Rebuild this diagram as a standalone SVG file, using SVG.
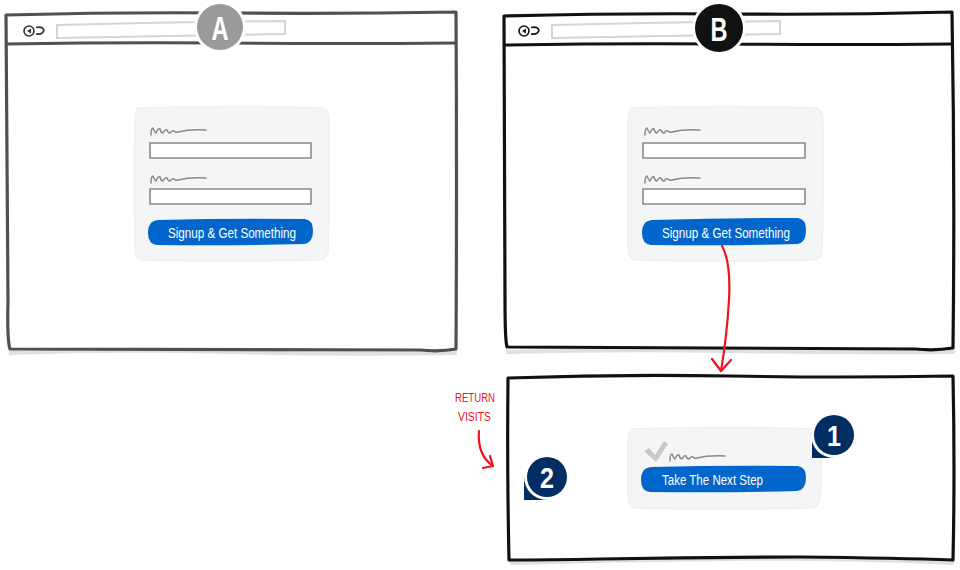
<svg xmlns="http://www.w3.org/2000/svg" width="960" height="570" viewBox="0 0 960 570">
<defs>
<style>
.winA{fill:#fff;stroke:#505050;stroke-width:3.2;stroke-linejoin:round;stroke-linecap:round}
.winB{fill:#fff;stroke:#111;stroke-width:3.2;stroke-linejoin:round;stroke-linecap:round}
.shadow{fill:none;stroke:#000;stroke-opacity:0.12;stroke-width:4}
.barA{fill:none;stroke:#505050;stroke-width:3}
.barB{fill:none;stroke:#111;stroke-width:3}
.url{fill:#fff;stroke:#d4d4d4;stroke-width:2}
.ico{fill:none;stroke-width:1.6}
.card{fill:#f4f5f6;stroke:#eef0f2;stroke-width:1.5}
.field{fill:#fff;stroke:#8a8a8a;stroke-width:1.6}
.squig{fill:none;stroke:#8a8a8a;stroke-width:1.5;stroke-linejoin:round;stroke-linecap:round}
.btn{fill:#0066cc}
.btxt{font-family:"Liberation Sans",Arial,sans-serif;font-size:14px;fill:#fff}
.badge{font-family:"Liberation Sans",Arial,sans-serif;font-weight:bold;fill:#fff;text-anchor:middle}
.red{fill:none;stroke:#f0141e;stroke-width:2.2;stroke-linecap:round;stroke-linejoin:round}
.rtxt{font-family:"Liberation Sans",Arial,sans-serif;font-size:13px;fill:#f0141e}
</style>
</defs>

<g id="window-a">
  <path class="shadow" d="M9 353 Q120 349 230 352 T457 353"/>
  <path class="winA" d="M6 15 Q120 12 230 13 T456 12 Q457 180 456 349 Q440 352 420 350 Q230 349 10 349 Q7 340 8 300 Q7 150 6 15 Z"/>
  <path class="barA" d="M6 44 Q120 42 230 43 T455 43"/>
  <path class="url" d="M57 25 Q170 22 285 21 L285 34 Q170 36 57 38 Z"/>
  <circle class="ico" cx="29" cy="31" r="5" stroke="#333"/>
  <path d="M27 31 L31 28.5 L31 33.5 Z" fill="#333"/>
  <path class="ico" stroke="#333" d="M36 27.5 Q42 26 44 30 Q43 35 36 34"/>
  <g id="badge-a">
    <circle cx="220" cy="27" r="26" fill="#fff"/>
    <circle cx="220" cy="27" r="23" fill="#9a9a9a"/>
    <text class="badge" x="220" y="40" font-size="34" textLength="17" lengthAdjust="spacingAndGlyphs">A</text>
  </g>
  <g id="form-a">
    <path class="card" d="M138 108 Q230 105 322 108 Q329 110 329 120 Q330 190 328 252 Q326 260 318 260 Q230 262 142 260 Q135 258 135 250 Q134 180 135 118 Q136 109 138 108 Z"/>
    <path class="squig" d="M151 135 Q151 128 153 128 Q155 133 156 133 Q158 128 160 129 Q161 133 163 133 Q165 129 167 130 Q168 133 170 133 Q172 130 174 131 Q176 133 178 132 Q190 129 206 130"/>
    <path class="field" d="M150 143 L311 143 L311 158 L150 158 Z"/>
    <path class="squig" d="M151 183 Q151 176 153 176 Q155 181 156 181 Q158 176 160 177 Q161 181 163 181 Q165 177 167 178 Q168 181 170 181 Q172 178 174 179 Q176 181 178 180 Q190 177 206 178"/>
    <path class="field" d="M150 189 L311 189 L311 204 L150 204 Z"/>
    <path class="btn" d="M158 220 Q230 218 305 219 Q313 220 313 231 Q313 243 304 244 Q230 246 157 245 Q148 244 148 233 Q148 221 158 220 Z"/>
    <text class="btxt" x="168" y="238" textLength="128" lengthAdjust="spacingAndGlyphs">Signup &amp; Get Something</text>
  </g>
</g>

<g id="window-b">
  <path class="shadow" d="M506 352 Q620 349 730 351 T955 352"/>
  <path class="winB" d="M504 16 Q620 13 730 14 T952 12 Q955 180 953 348 Q935 351 915 349 Q730 349 507 347 Q505 340 505 300 Q504 150 504 16 Z"/>
  <path class="barB" d="M504 45 Q620 43 730 44 T952 44"/>
  <path class="url" d="M552 25 Q665 22 780 21 L780 34 Q665 36 552 38 Z"/>
  <circle class="ico" cx="524" cy="31" r="5" stroke="#111"/>
  <path d="M522 31 L526 28.5 L526 33.5 Z" fill="#111"/>
  <path class="ico" stroke="#111" d="M531 27.5 Q537 26 539 30 Q538 35 531 34"/>
  <g id="badge-b">
    <circle cx="719" cy="28" r="27" fill="#fff"/>
    <circle cx="719" cy="28" r="24" fill="#111"/>
    <text class="badge" x="719" y="41" font-size="34" textLength="17" lengthAdjust="spacingAndGlyphs">B</text>
  </g>
  <g id="form-b">
    <path class="card" d="M631 108 Q725 105 816 108 Q823 110 823 120 Q824 190 822 252 Q820 260 812 260 Q725 262 635 260 Q628 258 628 250 Q627 180 628 118 Q629 109 631 108 Z"/>
    <path class="squig" d="M645 135 Q645 128 647 128 Q649 133 650 133 Q652 128 654 129 Q655 133 657 133 Q659 129 661 130 Q662 133 664 133 Q666 130 668 131 Q670 133 672 132 Q684 129 700 130"/>
    <path class="field" d="M643 143 L805 143 L805 158 L643 158 Z"/>
    <path class="squig" d="M645 183 Q645 176 647 176 Q649 181 650 181 Q652 176 654 177 Q655 181 657 181 Q659 177 661 178 Q662 181 664 181 Q666 178 668 179 Q670 181 672 180 Q684 177 700 178"/>
    <path class="field" d="M643 189 L805 189 L805 204 L643 204 Z"/>
    <path class="btn" d="M652 220 Q725 218 798 218 Q806 219 806 230 Q806 243 797 244 Q725 246 651 245 Q642 244 642 233 Q642 221 652 220 Z"/>
    <text class="btxt" x="662" y="238" textLength="128" lengthAdjust="spacingAndGlyphs">Signup &amp; Get Something</text>
  </g>
</g>

<g id="window-c">
  <path class="shadow" d="M510 563 Q620 560 730 559 T954 563"/>
  <path class="winB" d="M508 378 Q620 374 730 376 T953 376 Q955 470 953 560 Q900 558 800 557 Q700 557 600 559 Q550 560 509 560 Q507 470 508 378 Z"/>
  <g id="form-c">
    <path class="card" d="M632 429 Q725 426 815 429 Q821 431 821 440 Q822 480 820 500 Q818 508 810 508 Q725 510 634 508 Q628 506 628 498 Q627 470 628 437 Q629 430 632 429 Z"/>
    <path d="M644 451 L649 448 L655 455 L664 441 L668 444 L656 462 Z" fill="#c8c8c8"/>
    <path class="squig" d="M670 461 Q670 454 672 454 Q674 459 675 459 Q677 454 679 455 Q680 459 682 459 Q684 455 686 456 Q687 459 689 459 Q691 456 693 457 Q695 459 697 458 Q709 455 725 456"/>
    <path class="btn" d="M651 467 Q725 465 798 466 Q806 467 806 478 Q806 490 797 491 Q725 493 650 492 Q641 491 641 480 Q641 468 651 467 Z"/>
    <text class="btxt" x="662" y="485" textLength="101" lengthAdjust="spacingAndGlyphs">Take The Next Step</text>
  </g>
  <g id="badge-1">
    <rect x="812" y="435" width="22" height="23" fill="#002d62"/>
    <circle cx="834" cy="435" r="23" fill="#fff"/>
    <circle cx="834" cy="435" r="20" fill="#002d62"/>
    <text class="badge" x="834" y="446" font-size="30" textLength="14" lengthAdjust="spacingAndGlyphs">1</text>
  </g>
  <g id="badge-2">
    <rect x="524" y="477" width="23" height="23" fill="#002d62"/>
    <circle cx="547" cy="477" r="23" fill="#fff"/>
    <circle cx="547" cy="477" r="20" fill="#002d62"/>
    <text class="badge" x="547" y="488" font-size="30" textLength="14" lengthAdjust="spacingAndGlyphs">2</text>
  </g>
</g>

<g id="connectors">
  <path class="red" d="M722 246 Q731 262 729 300 Q727 335 721 371"/>
  <path class="red" d="M712 359 L721 371 L731 360"/>
  <path class="red" d="M479 431 Q477 455 493 466"/>
  <path class="red" d="M483 468 L493 466 L490 456"/>
  <text class="rtxt" x="455" y="402" textLength="40" lengthAdjust="spacingAndGlyphs">RETURN</text>
  <text class="rtxt" x="458" y="421" textLength="33" lengthAdjust="spacingAndGlyphs">VISITS</text>
</g>
</svg>
